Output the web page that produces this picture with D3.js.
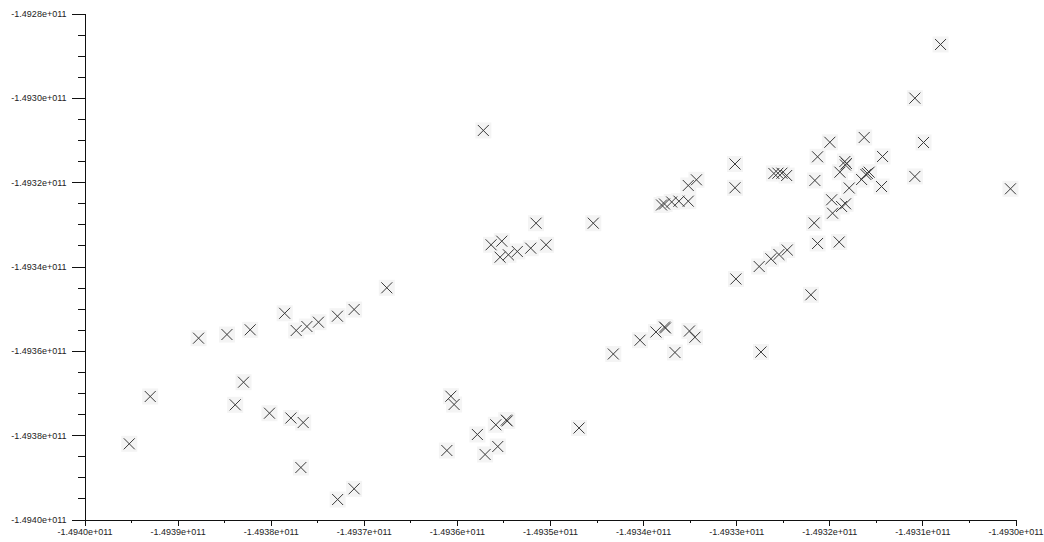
<!DOCTYPE html>
<html>
<head>
<meta charset="utf-8">
<script src="https://cdn.jsdelivr.net/npm/d3@7"></script>
<style>
  html, body { margin: 0; padding: 0; background: #fff; }
  svg { display: block; }
  .axis text { font-family: "Liberation Sans", Arial, sans-serif; font-size: 9px; fill: #222; }
  .axis path, .axis line { stroke: #111; stroke-width: 1; shape-rendering: crispEdges; }
</style>
</head>
<body>
<svg id="chart" width="1044" height="542"></svg>
<script>
// Scatter of paired readings (x, y), both in the -1.494e11 .. -1.493e11 range.
const xValues = [
  -1.4939519e11, -1.4939294e11, -1.4938775e11, -1.4938470e11, -1.4938381e11,
  -1.4938292e11, -1.4938220e11, -1.4938013e11, -1.4937850e11, -1.4937783e11,
  -1.4937726e11, -1.4937676e11, -1.4937651e11, -1.4937611e11, -1.4937487e11,
  -1.4937283e11, -1.4937281e11, -1.4937104e11, -1.4937104e11, -1.4936753e11,
  -1.4936108e11, -1.4936065e11, -1.4936030e11, -1.4935716e11, -1.4935780e11,
  -1.4935697e11, -1.4935561e11, -1.4935582e11, -1.4935470e11, -1.4935459e11,
  -1.4934688e11, -1.4935633e11, -1.4935518e11, -1.4935536e11, -1.4935447e11,
  -1.4935351e11, -1.4935207e11, -1.4935042e11, -1.4935150e11, -1.4934535e11,
  -1.4934320e11, -1.4934033e11, -1.4933862e11, -1.4933770e11, -1.4933760e11,
  -1.4933658e11, -1.4933502e11, -1.4933443e11, -1.4933802e11, -1.4933770e11,
  -1.4933693e11, -1.4933615e11, -1.4933515e11, -1.4933515e11, -1.4933427e11,
  -1.4933013e11, -1.4933013e11, -1.4933003e11, -1.4932753e11, -1.4932627e11,
  -1.4932541e11, -1.4932452e11, -1.4932734e11, -1.4932595e11, -1.4932552e11,
  -1.4932509e11, -1.4932458e11, -1.4932198e11, -1.4932162e11, -1.4932155e11,
  -1.4932126e11, -1.4932126e11, -1.4931994e11, -1.4931975e11, -1.4931965e11,
  -1.4931894e11, -1.4931886e11, -1.4931868e11, -1.4931825e11, -1.4931833e11,
  -1.4931816e11, -1.4931827e11, -1.4931786e11, -1.4931653e11, -1.4931607e11,
  -1.4931591e11, -1.4931572e11, -1.4931625e11, -1.4931439e11, -1.4931428e11,
  -1.4931081e11, -1.4931081e11, -1.4930988e11, -1.4930805e11, -1.4930054e11
];
const yValues = [
  -1.4938205e11, -1.4937083e11, -1.4935700e11, -1.4935613e11, -1.4937280e11,
  -1.4936744e11, -1.4935501e11, -1.4937479e11, -1.4935110e11, -1.4937593e11,
  -1.4935518e11, -1.4938767e11, -1.4937700e11, -1.4935423e11, -1.4935321e11,
  -1.4935179e11, -1.4939526e11, -1.4935020e11, -1.4939272e11, -1.4934505e11,
  -1.4938364e11, -1.4937076e11, -1.4937273e11, -1.4930774e11, -1.4937984e11,
  -1.4938458e11, -1.4938269e11, -1.4937754e11, -1.4937643e11, -1.4937662e11,
  -1.4937830e11, -1.4933485e11, -1.4933400e11, -1.4933779e11, -1.4933722e11,
  -1.4933644e11, -1.4933566e11, -1.4933485e11, -1.4932973e11, -1.4932973e11,
  -1.4936075e11, -1.4935748e11, -1.4935553e11, -1.4935435e11, -1.4935458e11,
  -1.4936039e11, -1.4935530e11, -1.4935677e11, -1.4932541e11, -1.4932518e11,
  -1.4932470e11, -1.4932451e11, -1.4932451e11, -1.4932079e11, -1.4931944e11,
  -1.4931569e11, -1.4932133e11, -1.4934296e11, -1.4934000e11, -1.4933817e11,
  -1.4933715e11, -1.4933609e11, -1.4936028e11, -1.4931794e11, -1.4931787e11,
  -1.4931787e11, -1.4931842e11, -1.4934671e11, -1.4932968e11, -1.4931960e11,
  -1.4931398e11, -1.4933454e11, -1.4931054e11, -1.4932418e11, -1.4932736e11,
  -1.4933419e11, -1.4931763e11, -1.4932577e11, -1.4932513e11, -1.4931510e11,
  -1.4931557e11, -1.4931593e11, -1.4932138e11, -1.4931937e11, -1.4931818e11,
  -1.4931794e11, -1.4931763e11, -1.4930940e11, -1.4932103e11, -1.4931391e11,
  -1.4930008e11, -1.4931865e11, -1.4931059e11, -1.4928735e11, -1.4932157e11
];

// Axis ticks: labelled majors and unlabelled minors.
const xMajorTicks = [
  -1.4940e11, -1.4939e11, -1.4938e11, -1.4937e11, -1.4936e11, -1.4935e11,
  -1.4934e11, -1.4933e11, -1.4932e11, -1.4931e11, -1.4930e11
];
const xTickLabels = [
  "-1.4940e+011", "-1.4939e+011", "-1.4938e+011", "-1.4937e+011", "-1.4936e+011",
  "-1.4935e+011", "-1.4934e+011", "-1.4933e+011", "-1.4932e+011", "-1.4931e+011",
  "-1.4930e+011"
];
const yMajorTicks = [
  -1.4940e11, -1.4938e11, -1.4936e11, -1.4934e11, -1.4932e11, -1.4930e11, -1.4928e11
];
const yTickLabels = [
  "-1.4940e+011", "-1.4938e+011", "-1.4936e+011", "-1.4934e+011",
  "-1.4932e+011", "-1.4930e+011", "-1.4928e+011"
];
const xMinorStep = 0.5e7;
const yMinorStep = 0.5e7;

const points = xValues.map((x, i) => ({ x, y: yValues[i] }));

const svg = d3.select("#chart");

const x = d3.scaleLinear()
  .domain([xMajorTicks[0], xMajorTicks[xMajorTicks.length - 1]])
  .range([84.5, 1015.5]);
const y = d3.scaleLinear()
  .domain([yMajorTicks[0], yMajorTicks[yMajorTicks.length - 1]])
  .range([519.5, 13.5]);

const xMinorTicks = d3.range(0, 21).map(i => xMajorTicks[0] + i * xMinorStep);
const yMinorTicks = d3.range(0, 25).map(i => yMajorTicks[0] + i * yMinorStep);

const axisY = 519.5, axisX = 84.5;

// minor ticks (no labels)
svg.append("g").attr("class", "axis")
  .attr("transform", `translate(0,${axisY})`)
  .call(d3.axisBottom(x).tickValues(xMinorTicks).tickSize(3).tickSizeOuter(0).tickFormat(""));
svg.append("g").attr("class", "axis")
  .attr("transform", `translate(${axisX},0)`)
  .call(d3.axisLeft(y).tickValues(yMinorTicks).tickSize(7).tickSizeOuter(0).tickFormat(""));

// major ticks with labels
svg.append("g").attr("class", "axis")
  .attr("transform", `translate(0,${axisY})`)
  .call(d3.axisBottom(x).tickValues(xMajorTicks).tickSize(6).tickSizeOuter(0).tickPadding(3)
    .tickFormat((d, i) => xTickLabels[i]));
svg.append("g").attr("class", "axis")
  .attr("transform", `translate(${axisX},0)`)
  .call(d3.axisLeft(y).tickValues(yMajorTicks).tickSize(13).tickSizeOuter(0).tickPadding(5)
    .tickFormat((d, i) => yTickLabels[i]));

// faint square halo behind every marker
const marks = svg.append("g");
marks.selectAll("rect.halo")
  .data(points)
  .join("rect")
  .attr("class", "halo")
  .attr("x", d => x(d.x) - 8)
  .attr("y", d => y(d.y) - 8)
  .attr("width", 16)
  .attr("height", 16)
  .attr("fill", "#f4f4f4");

// x-shaped markers
const r = 5.5;
marks.selectAll("path.mark")
  .data(points)
  .join("path")
  .attr("class", "mark")
  .attr("d", d => {
    const cx = x(d.x), cy = y(d.y);
    return `M${cx - r},${cy - r}L${cx + r},${cy + r}M${cx + r},${cy - r}L${cx - r},${cy + r}`;
  })
  .attr("fill", "none")
  .attr("stroke", "#3a3a3a")
  .attr("stroke-width", 1);
</script>
</body>
</html>
